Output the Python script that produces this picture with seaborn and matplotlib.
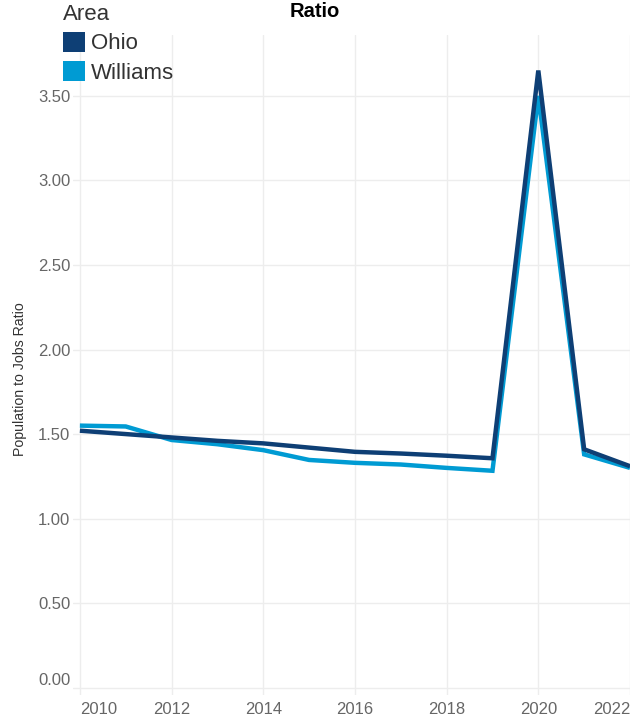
import matplotlib
matplotlib.use("Agg")
import matplotlib.pyplot as plt
from matplotlib.patches import Patch
import matplotlib.transforms as mtransforms
import seaborn as sns
import pandas as pd

years = [2010, 2011, 2012, 2013, 2014, 2015, 2016, 2017, 2018, 2019, 2020, 2021, 2022]
ohio = [1.52, 1.50, 1.48, 1.46, 1.445, 1.42, 1.395, 1.385, 1.372, 1.357, 3.65, 1.41, 1.31]
williams = [1.55, 1.545, 1.465, 1.44, 1.405, 1.347, 1.33, 1.32, 1.30, 1.283, 3.50, 1.38, 1.30]
areas = ["Ohio", "Williams"]
colors = {"Ohio": "#0E3F75", "Williams": "#009BD3"}
yticks = [0.0, 0.5, 1.0, 1.5, 2.0, 2.5, 3.0, 3.5]
xticks = [2010, 2012, 2014, 2016, 2018, 2020, 2022]

df = pd.DataFrame({
    "Year": years * 2,
    "Ratio": ohio + williams,
    "Area": ["Ohio"] * len(years) + ["Williams"] * len(years),
})

sns.set_style("white")
plt.rcParams["font.family"] = ["Liberation Sans", "DejaVu Sans"]

fig = plt.figure(figsize=(6.3, 7.19), dpi=100)
ax = fig.add_axes([73 / 630, 24 / 719, 557 / 630, 660 / 719])

sns.lineplot(data=df, x="Year", y="Ratio", hue="Area", hue_order=areas,
             palette=colors, linewidth=3.2, legend=False, ax=ax)
for line in ax.get_lines():
    line.set_solid_capstyle("butt")
    line.set_solid_joinstyle("miter")
ax.get_lines()[0].set_zorder(4)
ax.get_lines()[1].set_zorder(3)

ax.set_xlim(2009.85, 2021.96)
ax.set_ylim(-0.043, 3.86)
ax.set_xticks(xticks)
ax.set_xticklabels([str(x) for x in xticks])
ax.set_yticks(yticks)
ax.set_yticklabels([f"{v:.2f}" for v in yticks])
ax.grid(True, color="#EDEDED", linewidth=1)
ax.set_axisbelow(True)
for s in ax.spines.values():
    s.set_visible(False)
ax.tick_params(axis="both", length=0, labelsize=12, labelcolor="#666666")
ax.tick_params(axis="y", pad=2)
ax.tick_params(axis="x", pad=5)
xl = ax.get_xticklabels()
xl[0].set_ha("left")
xl[-1].set_ha("right")
yl = ax.get_yticklabels()
yl[0].set_transform(yl[0].get_transform() + mtransforms.ScaledTranslation(0, 9 / 100, fig.dpi_scale_trans))
ax.set_xlabel("")
ax.set_ylabel("Population to Jobs Ratio", fontsize=10.2, color="#333333")
ax.yaxis.set_label_coords(-0.083, 0.479)

fig.suptitle("Ratio", x=0.5, y=0.997, fontsize=14.5, fontweight="bold", color="#000000", va="top")

handles = [Patch(facecolor=colors[a], edgecolor="none", label=a) for a in areas]
leg = fig.legend(handles=handles, title="Area", loc="upper left",
                 bbox_to_anchor=(61 / 630, 1 - 2 / 719), frameon=False,
                 fontsize=16, title_fontsize=16, handlelength=1.0, handleheight=1.0,
                 handletextpad=0.25, labelspacing=0.3, borderaxespad=0, borderpad=0.1,
                 alignment="left")
for t in leg.get_texts():
    t.set_color("#333333")
leg.get_title().set_color("#333333")

fig.savefig("out.png", dpi=100)
